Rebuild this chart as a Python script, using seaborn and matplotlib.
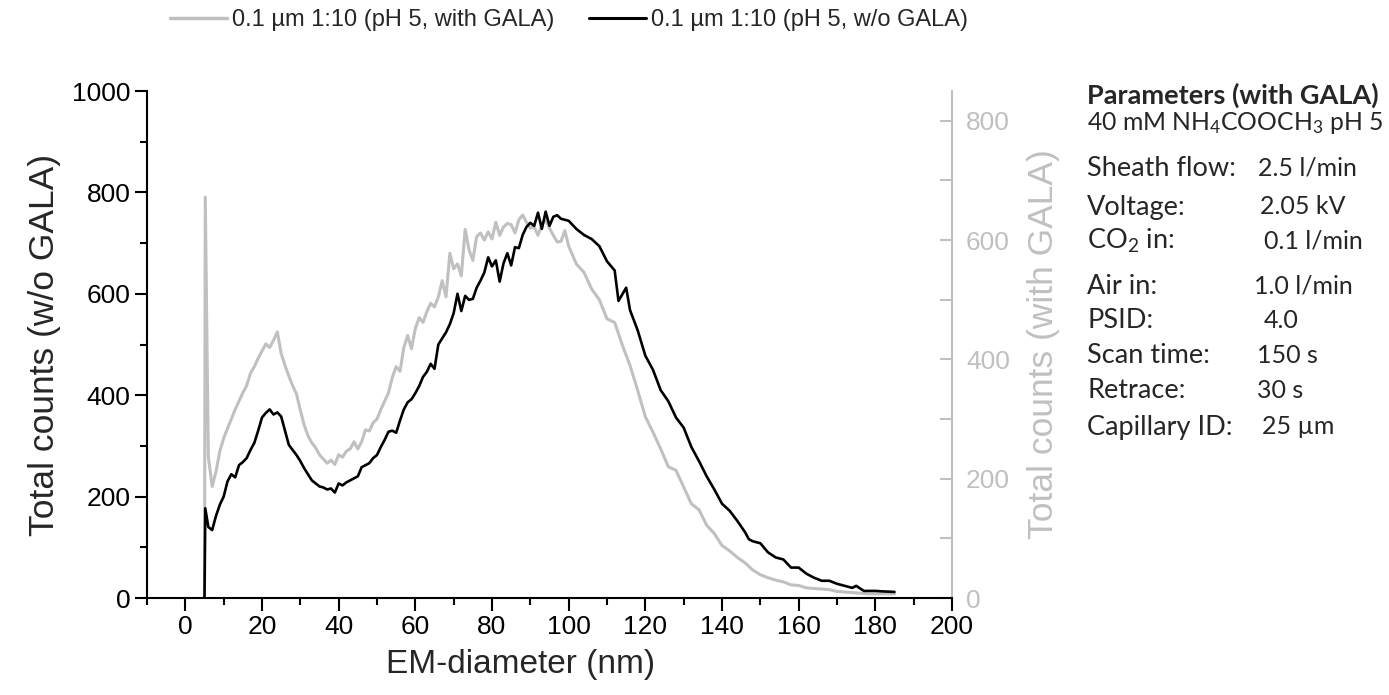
import numpy as np
import pandas as pd
import matplotlib.pyplot as plt
from matplotlib.lines import Line2D
from matplotlib.ticker import MultipleLocator
import seaborn as sns

# EM-diameter (nm) and total counts
diam_gala = [5.0, 5.2, 6, 7, 8, 9, 10, 11, 12, 13, 14, 15, 16, 17, 18, 19, 20, 21, 22, 23,
             24, 25, 26, 27, 28, 29, 30, 31, 32, 33, 34, 35, 36, 37, 38, 39, 40, 41, 42, 43,
             44, 45, 46, 47, 48, 49, 50, 51, 52, 53, 54, 55, 56, 57, 58, 59, 60, 61, 62, 63,
             64, 65, 66, 67, 68, 69, 70, 71, 72, 73, 74, 75, 76, 77, 78, 79, 80, 81, 82, 83,
             84, 85, 86, 87, 88, 89, 90, 91, 92, 93, 94, 95, 96, 97, 98, 99, 100, 102, 104, 106,
             108, 110, 112, 114, 116, 118, 120, 122, 124, 126, 128, 130, 132, 134, 136, 138, 140, 142, 144, 146,
             148, 150, 152, 154, 156, 158, 160, 162, 164, 166, 168, 170, 172, 174, 176, 178, 180, 182, 185]
counts_gala = [0, 672, 237, 187, 212, 246, 268, 284, 300, 316, 330, 344, 356, 377, 388, 402, 414, 426, 420, 432,
               446, 410, 390, 372, 356, 342, 315, 290, 272, 260, 252, 240, 233, 226, 231, 224, 240, 236, 246, 250,
               262, 250, 262, 282, 280, 294, 300, 316, 330, 344, 370, 388, 380, 420, 440, 418, 452, 470, 462, 480,
               494, 488, 505, 532, 505, 578, 552, 560, 540, 618, 584, 566, 606, 612, 600, 614, 602, 630, 608, 622,
               628, 626, 612, 634, 642, 630, 620, 622, 608, 626, 634, 620, 608, 597, 598, 616, 590, 560, 546, 518,
               500, 468, 462, 424, 390, 348, 304, 278, 250, 220, 214, 186, 158, 148, 122, 108, 88, 79, 68, 59,
               47, 39, 34, 30, 27, 22, 21, 17, 16, 15, 14, 11, 10, 9, 8, 7, 7, 7, 7]

diam_wo = [5.0, 5.2, 6, 7, 8, 9, 10, 11, 12, 13, 14, 15, 16, 17, 18, 19, 20, 21, 22, 23,
           24, 25, 26, 27, 28, 29, 30, 31, 32, 33, 34, 35, 36, 37, 38, 39, 40, 41, 42, 43,
           44, 45, 46, 47, 48, 49, 50, 51, 52, 53, 54, 55, 56, 57, 58, 59, 60, 61, 62, 63,
           64, 65, 66, 67, 68, 69, 70, 71, 72, 73, 74, 75, 76, 77, 78, 79, 80, 81, 82, 83,
           84, 85, 86, 87, 88, 89, 90, 91, 92, 93, 94, 95, 96, 97, 98, 99, 100, 102, 104, 106,
           108, 110, 112, 113, 115, 116, 118, 120, 122, 124, 126, 128, 130, 132, 134, 136, 138, 140, 142, 144,
           146, 147, 148, 150, 152, 154, 156, 158, 160, 162, 164, 166, 168, 170, 172, 174, 175, 177, 180, 182, 185]
counts_wo = [0, 177, 140, 134, 162, 184, 200, 230, 244, 238, 262, 268, 276, 292, 306, 330, 356, 365, 372, 362,
             366, 358, 330, 302, 292, 282, 270, 256, 244, 232, 226, 220, 218, 214, 216, 208, 226, 222, 228, 232,
             236, 240, 258, 262, 266, 276, 282, 298, 312, 328, 330, 326, 350, 372, 386, 392, 404, 418, 436, 446,
             462, 452, 500, 512, 524, 540, 562, 600, 566, 596, 588, 590, 612, 626, 642, 672, 654, 666, 624, 660,
             680, 656, 692, 690, 716, 732, 740, 734, 760, 728, 762, 734, 752, 755, 748, 746, 744, 728, 716, 708,
             694, 664, 646, 586, 612, 568, 528, 478, 450, 410, 388, 356, 336, 298, 270, 240, 214, 186, 172, 152,
             130, 116, 112, 108, 90, 80, 76, 60, 60, 48, 40, 34, 34, 28, 24, 20, 24, 14, 14, 13, 12]

label_gala = "0.1 µm 1:10 (pH 5, with GALA)"
label_wo = "0.1 µm 1:10 (pH 5, w/o GALA)"

param_title = "Parameters (with GALA)"
param_buffer = "40 mM NH$_4$COOCH$_3$ pH 5"
param_names = ["Sheath flow:", "Voltage:", "CO$_2$ in:", "Air in:", "PSID:",
               "Scan time:", "Retrace:", "Capillary ID:"]
param_values = ["2.5 l/min", "2.05 kV", "0.1 l/min", "1.0 l/min", "4.0",
                "150 s", "30 s", "25 µm"]

GRAY = "#c0c0c0"

sns.set_theme(style="ticks")
plt.rcParams['font.family'] = ['Liberation Sans', 'DejaVu Sans']
plt.rcParams['mathtext.fontset'] = 'custom'
plt.rcParams['mathtext.rm'] = 'Lato'
plt.rcParams['mathtext.it'] = 'Lato:italic'
plt.rcParams['mathtext.bf'] = 'Lato:bold'

W, H = 1389, 695
fig = plt.figure(figsize=(W / 100, H / 100), dpi=100)
ax = fig.add_axes([147 / W, 1 - 598 / H, (952 - 147) / W, (598 - 91) / H])
ax2 = ax.twinx()

df_gala = pd.DataFrame({'diam': diam_gala, 'counts': counts_gala})
df_wo = pd.DataFrame({'diam': diam_wo, 'counts': counts_wo})

sns.lineplot(data=df_gala, x='diam', y='counts', ax=ax2, color=GRAY, lw=2.2, legend=False)
sns.lineplot(data=df_wo, x='diam', y='counts', ax=ax, color='black', lw=1.9, legend=False)

# black curve on top of the grey one
ax.set_zorder(ax2.get_zorder() + 1)
ax.patch.set_visible(False)

ax.set_xlim(-10, 200)
ax.set_ylim(0, 1000)
ax2.set_ylim(0, 850)

ax.xaxis.set_major_locator(MultipleLocator(20))
ax.xaxis.set_minor_locator(MultipleLocator(10))
ax.yaxis.set_major_locator(MultipleLocator(200))
ax.yaxis.set_minor_locator(MultipleLocator(100))
ax2.yaxis.set_major_locator(MultipleLocator(200))
ax2.yaxis.set_minor_locator(MultipleLocator(100))

for s in ['top', 'right']:
    ax.spines[s].set_visible(False)
for s in ['top', 'left', 'bottom']:
    ax2.spines[s].set_visible(False)
for s in ['left', 'bottom']:
    ax.spines[s].set_linewidth(1.5)
    ax.spines[s].set_color('black')
ax2.spines['right'].set_linewidth(1.5)
ax2.spines['right'].set_color(GRAY)

ax.tick_params(axis='both', which='major', direction='out', length=9, width=1.5,
               labelsize=19, color='black', labelcolor='black', pad=3)
ax.tick_params(axis='both', which='minor', direction='out', length=5, width=1.5, color='black')
ax2.tick_params(axis='y', which='major', direction='in', length=9, width=1.5,
                labelsize=19, color=GRAY, labelcolor=GRAY, pad=10)
ax2.tick_params(axis='y', which='minor', direction='in', length=9, width=1.5, color=GRAY)

ax.set_xlabel("EM-diameter (nm)", fontsize=24)
ax.xaxis.set_label_coords((521 - 147) / 805, -0.1)
ax.set_ylabel("Total counts (w/o GALA)", fontsize=25.5, labelpad=8)
ax2.set_ylabel("Total counts (with GALA)", fontsize=25.5, color=GRAY, labelpad=12)
ax.grid(False)
ax2.grid(False)

handles = [Line2D([], [], color=GRAY, lw=2.5), Line2D([], [], color='black', lw=2.2)]
fig.legend(handles, [label_gala, label_wo], loc='center', bbox_to_anchor=(569 / W, 1 - 20 / H),
           ncol=2, frameon=False, fontsize=17, handlelength=2.4, handletextpad=0.2,
           columnspacing=1.5)

# parameter box on the right
txt_font = ['Lato', 'DejaVu Sans']
fig.text(1087 / W, 1 - 95 / H, param_title, fontsize=19.5, fontweight='bold',
         family=txt_font, va='center', ha='left')
fig.text(1087 / W, 1 - 123 / H, param_buffer, fontsize=17.8, family=txt_font,
         va='center', ha='left')
param_y = [168, 207, 241, 286, 320, 355, 391, 427]
value_x = [1258, 1260, 1264, 1254, 1264, 1257, 1257, 1262]
for name, val, y, vx in zip(param_names, param_values, param_y, value_x):
    fig.text(1087 / W, 1 - y / H, name, fontsize=19.5, family=txt_font, va='center', ha='left')
    fig.text(vx / W, 1 - y / H, val, fontsize=18, family=txt_font, va='center', ha='left')

fig.savefig('out.png', dpi=100)
